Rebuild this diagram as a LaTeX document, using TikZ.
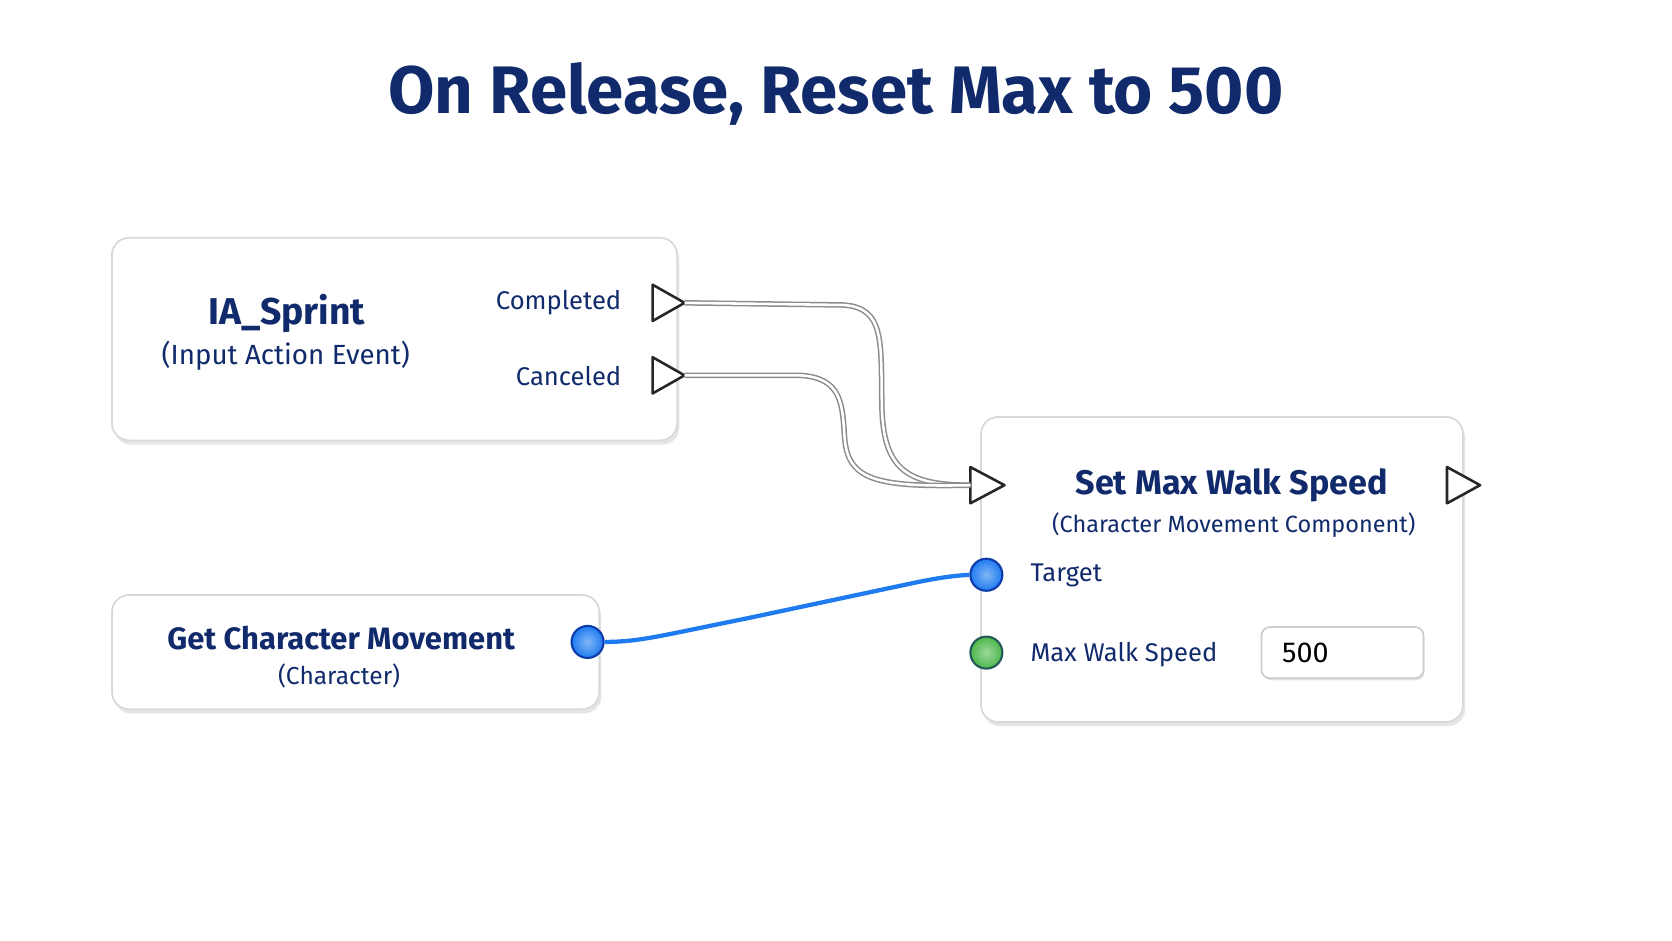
\documentclass[tikz,border=0pt]{standalone}
\usepackage{fontspec}
\setmainfont{Fira Sans}
\usetikzlibrary{shadows}
\definecolor{navy}{HTML}{102A6B}
\definecolor{pinblue}{HTML}{1E7BF0}
\definecolor{pingreen}{HTML}{4CB84A}
\tikzset{
  x=0.5pt,y=-0.5pt,
  card/.style={draw=black!15,line width=0.8pt,rounded corners=8pt,fill=white,drop shadow={shadow xshift=1pt,shadow yshift=-2pt,opacity=0.25,fill=black!40}},
  txt/.style={text=navy,inner sep=0pt},
  execpin/.style={draw=black!85,line width=1.2pt,fill=white,line join=round},
  datapin/.style={circle,draw=#1!70!blue!70!black,line width=1pt,minimum size=15pt,inner sep=0pt,inner color=#1!55!white,outer color=#1},
  execwire/.style={draw=black!45,line width=2.6pt,postaction={draw=white,line width=1.2pt}},
}
\begin{document}
\begin{tikzpicture}
\useasboundingbox[fill=white] (0,0) rectangle (1568,882);
\node[txt,font=\bfseries\fontsize{31.5}{37}\selectfont] (title) at (784,88) {On Release, Reset Max to 500};
% IA_Sprint
\draw[card] (105,223) rectangle (635,413);
\node[txt,font=\bfseries\fontsize{17.5}{20}\selectfont] (ia) at (269,294) {IA\_Sprint};
\node[txt,font=\fontsize{13}{15}\selectfont] (iasub) at (268,334) {(Input Action Event)};
\node[txt,anchor=east,font=\fontsize{12}{15}\selectfont] (comp) at (583,284) {Completed};
\node[txt,anchor=east,font=\fontsize{12}{15}\selectfont] (canc) at (583,353) {Canceled};
\draw[execpin] (612,267) -- (642,284) -- (612,301) -- cycle;
\draw[execpin] (612,335) -- (642,352) -- (612,369) -- cycle;
\coordinate (compout) at (642,284);
\coordinate (cancout) at (642,352);
% Get Character Movement
\draw[card] (105,558) rectangle (562,665);
\node[txt,font=\bfseries\fontsize{14.5}{17}\selectfont] (gcm) at (320,598) {Get Character Movement};
\node[txt,font=\fontsize{11.5}{14}\selectfont] (gcmsub) at (318,634) {(Character)};
\node[datapin=pinblue] (gcmpin) at (551,602) {};
% Set Max Walk Speed
\draw[card] (920,391) rectangle (1372,677);
\node[txt,font=\bfseries\fontsize{16}{19}\selectfont] (smws) at (1155,455) {Set Max Walk Speed};
\node[txt,font=\fontsize{11}{14}\selectfont] (smwssub) at (1157,492) {(Character Movement Component)};
\draw[execpin] (910,438) -- (942,455) -- (910,472) -- cycle;
\coordinate (execin) at (910,455);
\draw[execpin] (1357,438) -- (1388,455) -- (1357,472) -- cycle;
\node[datapin=pinblue] (tgt) at (925,539) {};
\node[txt,anchor=west,font=\fontsize{12}{15}\selectfont] (tgtl) at (966,540) {Target};
\node[datapin=pingreen] (mws) at (925,612) {};
\node[txt,anchor=west,font=\fontsize{12}{15}\selectfont] (mwsl) at (966,614) {Max Walk Speed};
\draw[draw=black!20,line width=0.8pt,rounded corners=4pt,fill=white,drop shadow={shadow xshift=0.5pt,shadow yshift=-1pt,opacity=0.2}] (1183,588) rectangle (1335,636);
\node[anchor=west,inner sep=0pt,font=\fontsize{13.5}{17}\selectfont] (val) at (1202,612) {500};
% wires
\draw[execwire] (compout) -- (790,286) .. controls (830,288) and (826,320) .. (827,380) .. controls (828,440) and (850,455) .. (execin);
\draw[execwire] (cancout) -- (750,352) .. controls (790,354) and (790,380) .. (792,410) .. controls (795,450) and (820,457) .. (execin);
\draw[pinblue,line width=2pt] (gcmpin.east) .. controls (600,602) and (620,596) .. (700,580) -- (860,546) .. controls (885,541) and (895,540) .. (tgt.west);
\end{tikzpicture}
\end{document}
